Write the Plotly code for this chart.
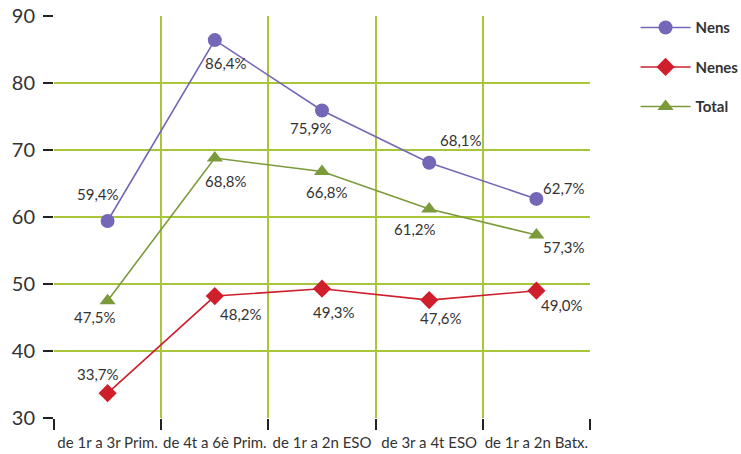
import plotly.graph_objects as go

# Age groups (school stages)
categories = ["de 1r a 3r Prim.", "de 4t a 6è Prim.", "de 1r a 2n ESO",
              "de 3r a 4t ESO", "de 1r a 2n Batx."]

nens = [59.4, 86.4, 75.9, 68.1, 62.7]
nenes = [33.7, 48.2, 49.3, 47.6, 49.0]
total = [47.5, 68.8, 66.8, 61.2, 57.3]

y_ticks = [30, 40, 50, 60, 70, 80, 90]

GRID = "#a9c53a"
TEXT = "#333333"
FONT = "Lato"

xpos = [i + 0.5 for i in range(len(categories))]


def fmt(v):
    return f"{v:.1f}%".replace(".", ",")


# label offsets in pixels (dx right, dy down) from each marker
series = [
    ("Nens", nens, "#7467b8", "circle",
     [(-10, -27), (11, 23), (-11, 18), (32, -23), (28, -11)]),
    ("Nenes", nenes, "#cf1f2d", "diamond",
     [(-10, -19), (26, 18), (12, 23), (12, 18), (26, 14)]),
    ("Total", total, "#7b9a3a", "triangle-up",
     [(-13, 16), (11, 23), (5, 21), (-14, 20), (28, 12)]),
]

fig = go.Figure()
annotations = []
for i, (name, vals, color, symbol, offs) in enumerate(series):
    fig.add_trace(go.Scatter(
        x=xpos, y=vals, name=name, mode="lines+markers",
        line=dict(color=color, width=1.6),
        marker=dict(color=color, symbol=symbol, size=14),
        legendgroup=f"g{i}", cliponaxis=False,
    ))
    for xv, yv, (dx, dy) in zip(xpos, vals, offs):
        annotations.append(dict(
            x=xv, y=yv, xref="x", yref="y", text=fmt(yv), showarrow=False,
            xshift=dx, yshift=-dy,
            font=dict(family=FONT, size=15, color=TEXT),
        ))

# invisible trace to carry the vertical grid axis
fig.add_trace(go.Scatter(x=[0, len(categories)], y=[30, 30], xaxis="x2",
                         mode="markers", marker=dict(opacity=0),
                         showlegend=False, hoverinfo="skip"))

fig.update_layout(
    width=741, height=454,
    margin=dict(l=54, r=151, t=16, b=36, autoexpand=False),
    paper_bgcolor="white", plot_bgcolor="white",
    font=dict(family=FONT, color=TEXT),
    annotations=annotations,
    xaxis=dict(range=[0, len(categories)], tickvals=xpos, ticktext=categories,
               showgrid=False, zeroline=False, automargin=False,
               ticks="outside", ticklen=11, tickcolor="rgba(0,0,0,0)",
               tickfont=dict(family=FONT, size=15, color=TEXT)),
    xaxis2=dict(range=[0, len(categories)], overlaying="x",
                tickvals=list(range(len(categories) + 1)),
                showticklabels=False, showgrid=True, gridcolor=GRID, gridwidth=2,
                ticks="outside", ticklen=11, tickcolor="#222", tickwidth=2,
                zeroline=False, side="bottom", automargin=False),
    yaxis=dict(range=[30, 90], tickvals=y_ticks, showgrid=True,
               gridcolor=GRID, gridwidth=2, zeroline=False, automargin=False,
               ticks="outside", ticklen=10, tickcolor="#222", tickwidth=2,
               ticklabelstandoff=4,
               tickfont=dict(family=FONT, size=20, color=TEXT)),
    legend=dict(x=1.085, y=1.012, xanchor="left", yanchor="top",
                font=dict(family=FONT, size=15, color=TEXT, weight="bold"),
                tracegroupgap=17, itemwidth=50),
)

fig.write_html("out.html")
